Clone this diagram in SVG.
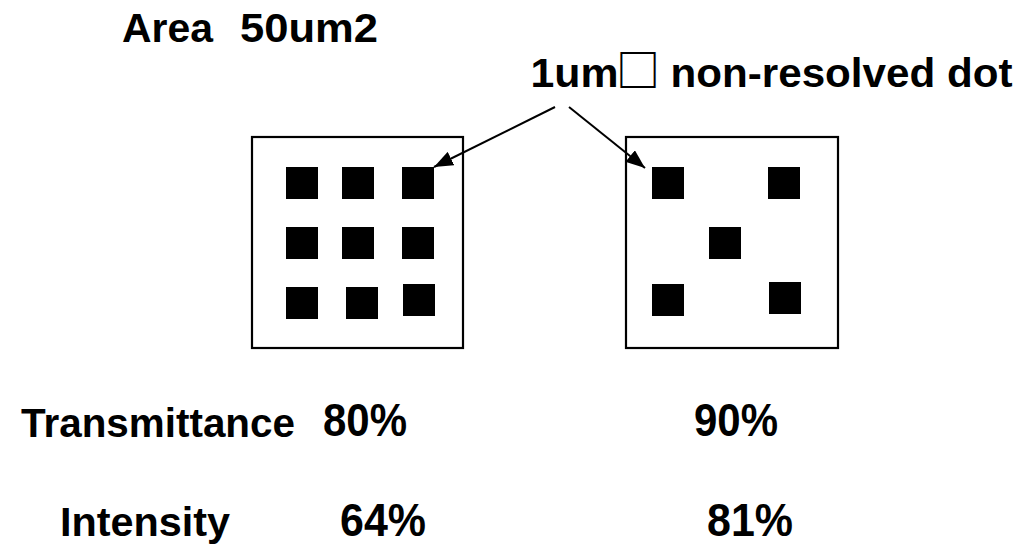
<svg xmlns="http://www.w3.org/2000/svg" width="1023" height="549" viewBox="0 0 1023 549">
  <style>
    .t{font-family:"Liberation Sans",Arial,sans-serif;font-weight:bold;font-size:41px;fill:#000}
    .num{font-family:"Liberation Sans",Arial,sans-serif;font-weight:bold;font-size:46px;fill:#000}
    .frame{fill:#fff;stroke:#000;stroke-width:2.2}
    .dot{fill:#000}
    .lead{stroke:#000;stroke-width:2;fill:none;marker-end:url(#ah)}
  </style>
  <defs>
    <marker id="ah" markerUnits="userSpaceOnUse" markerWidth="19" markerHeight="15" refX="19" refY="7.5" orient="auto" viewBox="0 0 19 15">
      <path d="M0,0 L19,7.5 L0,15 z" fill="#000"/>
    </marker>
  </defs>
  <rect width="1023" height="549" fill="#fff"/>

  <g id="title">
    <text class="t" y="42"><tspan x="122" textLength="91" lengthAdjust="spacingAndGlyphs">Area</tspan><tspan x="240" textLength="138" lengthAdjust="spacingAndGlyphs">50um2</tspan></text>
  </g>

  <g id="dot-label">
    <text class="t" y="87"><tspan x="530.5" textLength="88" lengthAdjust="spacingAndGlyphs">1um</tspan><tspan x="616" font-family="'Noto Sans CJK JP',sans-serif" font-size="44px">□</tspan><tspan x="670.5" textLength="342" lengthAdjust="spacingAndGlyphs">non-resolved dot</tspan></text>
  </g>

  <!-- left cell: 3x3 dot grid -->
  <g id="cell-dense">
    <rect class="frame" x="252" y="137" width="211" height="211"/>
    <rect class="dot" x="286" y="167" width="32" height="32"/>
    <rect class="dot" x="342" y="167" width="32" height="32"/>
    <rect class="dot" x="402" y="167" width="32" height="32"/>
    <rect class="dot" x="286" y="227" width="32" height="32"/>
    <rect class="dot" x="342" y="227" width="32" height="32"/>
    <rect class="dot" x="402" y="227" width="32" height="32"/>
    <rect class="dot" x="286" y="287" width="32" height="32"/>
    <rect class="dot" x="346" y="287" width="32" height="32"/>
    <rect class="dot" x="403" y="284" width="32" height="32"/>
  </g>

  <!-- right cell: five-dot pattern -->
  <g id="cell-sparse">
    <rect class="frame" x="626" y="137" width="212" height="211"/>
    <rect class="dot" x="652" y="167" width="32" height="32"/>
    <rect class="dot" x="768" y="167" width="32" height="32"/>
    <rect class="dot" x="709" y="227" width="32" height="32"/>
    <rect class="dot" x="652" y="284" width="32" height="32"/>
    <rect class="dot" x="769" y="282" width="32" height="32"/>
  </g>

  <g id="connectors">
    <line class="lead" x1="555" y1="107" x2="434" y2="167"/>
    <line class="lead" x1="569" y1="107" x2="645" y2="168"/>
  </g>

  <g id="row-transmittance">
    <text class="t" x="21" y="437" textLength="274" lengthAdjust="spacingAndGlyphs">Transmittance</text>
    <text class="num" x="323" y="436" textLength="84" lengthAdjust="spacingAndGlyphs">80%</text>
    <text class="num" x="694" y="436" textLength="84" lengthAdjust="spacingAndGlyphs">90%</text>
  </g>

  <g id="row-intensity">
    <text class="t" x="60" y="536" textLength="170" lengthAdjust="spacingAndGlyphs">Intensity</text>
    <text class="num" x="340" y="536" textLength="86" lengthAdjust="spacingAndGlyphs">64%</text>
    <text class="num" x="707" y="536" textLength="86" lengthAdjust="spacingAndGlyphs">81%</text>
  </g>
</svg>
